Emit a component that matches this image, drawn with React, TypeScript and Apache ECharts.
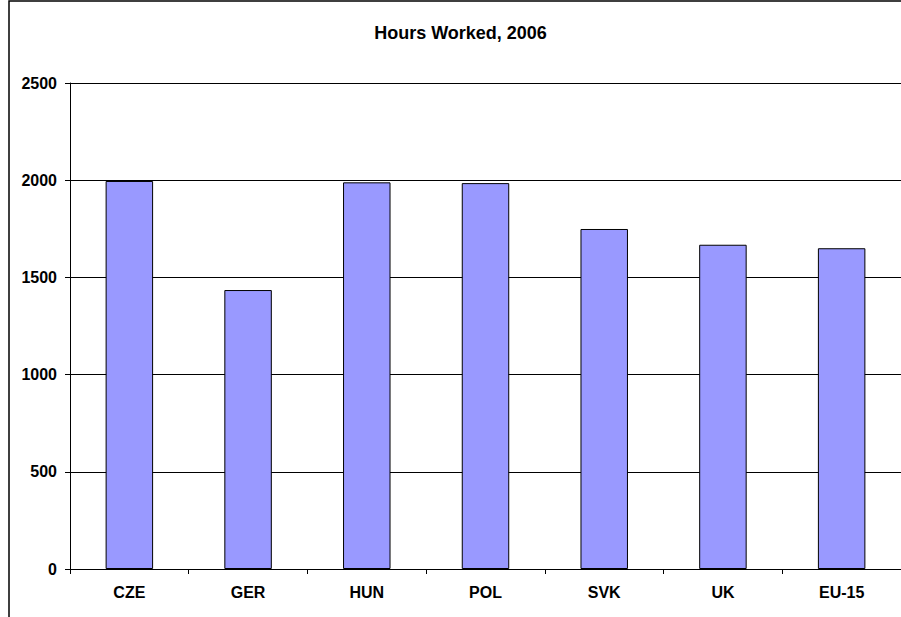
import React, { useEffect, useRef } from "react";
import * as echarts from "echarts";

const categories = ["CZE", "GER", "HUN", "POL", "SVK", "UK", "EU-15"];
const hoursWorked = [1996, 1435, 1989, 1985, 1749, 1668, 1650];
const chartTitle = "Hours Worked, 2006";

export default function App() {
  const ref = useRef<HTMLDivElement>(null);
  useEffect(() => {
    if (!ref.current) return;
    const chart = echarts.init(ref.current, null, { renderer: "svg" });
    const font = "'Liberation Sans', Arial, sans-serif";
    chart.setOption({
      animation: false,
      backgroundColor: "#ffffff",
      graphic: [
        {
          type: "rect",
          shape: { x: 9, y: 1, width: 1000, height: 1000 },
          style: { fill: "none", stroke: "#000", lineWidth: 1.5 },
          z: 10,
        },
        {
          type: "text",
          x: 460.5,
          y: 33,
          style: {
            text: chartTitle,
            fontFamily: font,
            fontWeight: "bold",
            fontSize: 18,
            fill: "#000",
            textAlign: "center",
            textVerticalAlign: "middle",
          },
        },
      ],
      grid: { left: 70, top: 83, bottom: 48, right: -1, containLabel: false },
      xAxis: {
        type: "category",
        data: categories,
        axisLine: { lineStyle: { color: "#000", width: 1 } },
        axisTick: { show: true, length: 5, lineStyle: { color: "#000" } },
        axisLabel: {
          fontFamily: font,
          fontWeight: "bold",
          fontSize: 16,
          color: "#000",
          margin: 15,
        },
        splitLine: { show: false },
      },
      yAxis: {
        type: "value",
        min: 0,
        max: 2500,
        interval: 500,
        axisLine: { show: true, lineStyle: { color: "#000", width: 1 } },
        axisTick: { show: true, length: 5, lineStyle: { color: "#000" } },
        axisLabel: {
          fontFamily: font,
          fontWeight: "bold",
          fontSize: 16,
          color: "#000",
          margin: 13,
          formatter: (v: number) => String(v),
        },
        splitLine: { show: true, lineStyle: { color: "#000", width: 1 } },
      },
      series: [
        {
          type: "bar",
          data: hoursWorked,
          barWidth: "40%",
          itemStyle: { color: "#9999FF", borderColor: "#000", borderWidth: 1 },
        },
      ],
    });
    return () => chart.dispose();
  }, []);
  return (
    <div
      ref={ref}
      style={{ position: "absolute", left: 0, top: 0, width: 901, height: 617 }}
    />
  );
}
